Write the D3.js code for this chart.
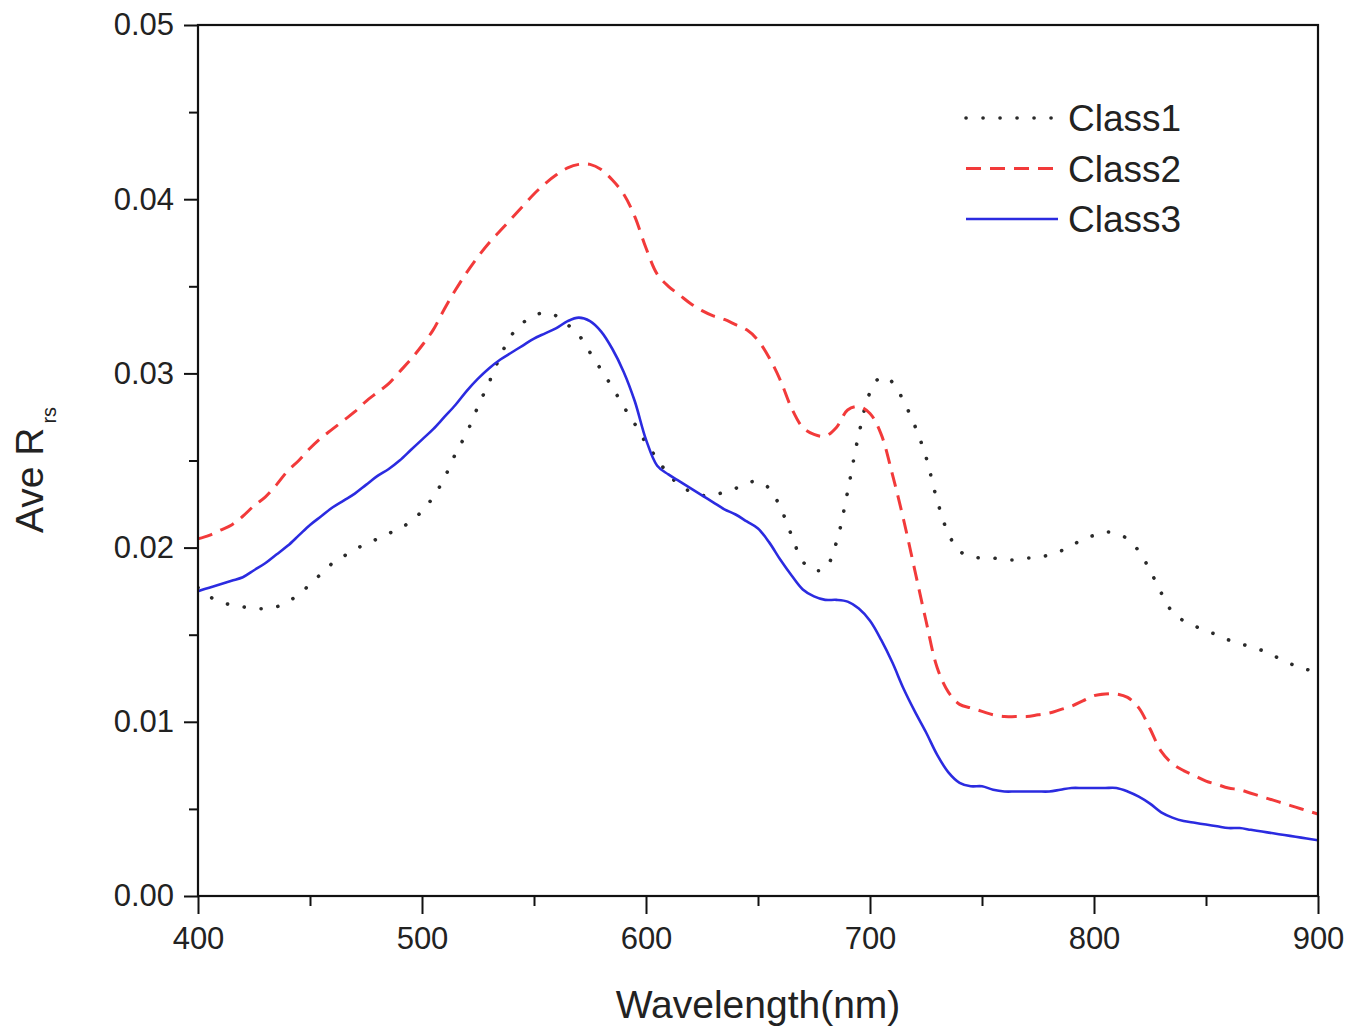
<!DOCTYPE html>
<html>
<head>
<meta charset="utf-8">
<script src="https://cdn.jsdelivr.net/npm/d3@7"></script>
<style>
  html, body { margin: 0; padding: 0; background: #fff; }
  svg { display: block; font-family: "Liberation Sans", Arial, sans-serif; }
</style>
</head>
<body>
<svg id="chart" width="1350" height="1028"></svg>
<script>
// Wavelength grid (nm), 5 nm steps
const wavelengths = d3.range(400, 901, 5);

// Average remote-sensing reflectance for each class
const class1 = [
  0.0177, 0.0172, 0.0169, 0.0167, 0.0166, 0.0165, 0.0165, 0.0166, 0.0169, 0.0173,
  0.0179, 0.0185, 0.0191, 0.0195, 0.0199, 0.0202, 0.0205, 0.0208, 0.0211, 0.0215,
  0.0221, 0.0229, 0.0240, 0.0254, 0.0266, 0.0281, 0.0295, 0.0310, 0.0322, 0.0329,
  0.0333, 0.0335, 0.0333, 0.0328, 0.0322, 0.0312, 0.0302, 0.0292, 0.0281, 0.0271,
  0.0260, 0.0251, 0.0242, 0.0236, 0.0232, 0.0230, 0.0230, 0.0232, 0.0234, 0.0237,
  0.0238, 0.0234, 0.0223, 0.0207, 0.0192, 0.0187, 0.0188, 0.0203, 0.0232, 0.0265,
  0.0289, 0.0298, 0.0295, 0.0284, 0.0270, 0.0252, 0.0227, 0.0208, 0.0198, 0.0195,
  0.0194, 0.0194, 0.0193, 0.0193, 0.0194, 0.0194, 0.0196, 0.0198, 0.0201, 0.0205,
  0.0207, 0.0209, 0.0208, 0.0205, 0.0198, 0.0187, 0.0174, 0.0163, 0.0158, 0.0155,
  0.0152, 0.0150, 0.0147, 0.0145, 0.0143, 0.0141, 0.0138, 0.0135, 0.0132, 0.0130,
  0.0129
];
const class2 = [
  0.0205, 0.0207, 0.0210, 0.0213, 0.0218, 0.0224, 0.0229, 0.0236, 0.0244, 0.0250,
  0.0257, 0.0263, 0.0268, 0.0273, 0.0278, 0.0284, 0.0289, 0.0294, 0.0301, 0.0308,
  0.0316, 0.0325, 0.0337, 0.0348, 0.0358, 0.0367, 0.0375, 0.0382, 0.0389, 0.0396,
  0.0403, 0.0409, 0.0414, 0.0418, 0.0420, 0.0420, 0.0417, 0.0411, 0.0403, 0.0390,
  0.0372, 0.0357, 0.0350, 0.0345, 0.0340, 0.0336, 0.0333, 0.0331, 0.0328, 0.0325,
  0.0319, 0.0309, 0.0296, 0.0280, 0.0269, 0.0265, 0.0264, 0.0269, 0.0279, 0.0281,
  0.0277, 0.0265, 0.0242, 0.0216, 0.0187, 0.0158, 0.0131, 0.0117, 0.0110, 0.0108,
  0.0106, 0.0104, 0.0103, 0.0103, 0.0103, 0.0104, 0.0105, 0.0107, 0.0109, 0.0112,
  0.0115, 0.0116, 0.0116, 0.0114, 0.0108, 0.0096, 0.0083, 0.0076, 0.0072, 0.0069,
  0.0066, 0.0064, 0.0062, 0.0061, 0.0059, 0.0057, 0.0055, 0.0053, 0.0051, 0.0049,
  0.0047
];
const class3 = [
  0.0175, 0.0177, 0.0179, 0.0181, 0.0183, 0.0187, 0.0191, 0.0196, 0.0201, 0.0207,
  0.0213, 0.0218, 0.0223, 0.0227, 0.0231, 0.0236, 0.0241, 0.0245, 0.0250, 0.0256,
  0.0262, 0.0268, 0.0275, 0.0282, 0.0290, 0.0297, 0.0303, 0.0308, 0.0312, 0.0316,
  0.0320, 0.0323, 0.0326, 0.0330, 0.0332, 0.0330, 0.0324, 0.0314, 0.0301, 0.0284,
  0.0262, 0.0247, 0.0242, 0.0238, 0.0234, 0.0230, 0.0226, 0.0222, 0.0219, 0.0215,
  0.0211, 0.0203, 0.0193, 0.0184, 0.0176, 0.0172, 0.0170, 0.0170, 0.0169, 0.0165,
  0.0158, 0.0147, 0.0134, 0.0119, 0.0106, 0.0094, 0.0081, 0.0071, 0.0065, 0.0063,
  0.0063, 0.0061, 0.0060, 0.0060, 0.0060, 0.0060, 0.0060, 0.0061, 0.0062, 0.0062,
  0.0062, 0.0062, 0.0062, 0.0060, 0.0057, 0.0053, 0.0048, 0.0045, 0.0043, 0.0042,
  0.0041, 0.0040, 0.0039, 0.0039, 0.0038, 0.0037, 0.0036, 0.0035, 0.0034, 0.0033,
  0.0032
];

const seriesNames = ["Class1", "Class2", "Class3"];
const xTicks = [400, 500, 600, 700, 800, 900];
const xMinorTicks = [450, 550, 650, 750, 850];
const yTicks = [0.00, 0.01, 0.02, 0.03, 0.04, 0.05];
const yMinorTicks = [0.005, 0.015, 0.025, 0.035, 0.045];

const styles = {
  Class1: { color: "#2a2a2a", width: 3.6, dash: "0.1 16.9", cap: "round" },
  Class2: { color: "#f23a3a", width: 3, dash: "15 9", cap: "butt" },
  Class3: { color: "#2b2be0", width: 2.6, dash: null, cap: "butt" }
};

const margin = { left: 198, top: 25, right: 32, bottom: 132 };
const W = 1350, H = 1028;
const innerW = W - margin.left - margin.right;
const innerH = H - margin.top - margin.bottom;

const svg = d3.select("#chart");
const g = svg.append("g").attr("transform", `translate(${margin.left},${margin.top})`);

const x = d3.scaleLinear().domain([400, 900]).range([0, innerW]);
const y = d3.scaleLinear().domain([0, 0.05]).range([innerH, 0]);

const series = [class1, class2, class3].map((vals, i) => ({
  name: seriesNames[i],
  points: wavelengths.map((w, j) => ({ w, v: vals[j] }))
}));

svg.append("clipPath").attr("id", "plotclip")
  .append("rect").attr("x", 0).attr("y", 0).attr("width", innerW).attr("height", innerH);

const line = d3.line()
  .x(d => x(d.w))
  .y(d => y(d.v))
  .curve(d3.curveCatmullRom.alpha(0.5));

g.append("g").attr("clip-path", "url(#plotclip)")
  .selectAll("path")
  .data(series)
  .join("path")
  .attr("d", d => line(d.points))
  .attr("fill", "none")
  .attr("stroke", d => styles[d.name].color)
  .attr("stroke-width", d => styles[d.name].width)
  .attr("stroke-dasharray", d => styles[d.name].dash)
  .attr("stroke-linecap", d => styles[d.name].cap)
  .attr("stroke-linejoin", "round");

// Axes: major ticks labelled, minor ticks halfway between
const tickFont = "31px";
const xAxis = d3.axisBottom(x).tickValues(xTicks).tickSize(18).tickPadding(13).tickFormat(d3.format("d"));
const xAxisMinor = d3.axisBottom(x).tickValues(xMinorTicks).tickSize(10).tickFormat("");
const yAxis = d3.axisLeft(y).tickValues(yTicks).tickSize(14).tickPadding(10).tickFormat(d3.format(".2f"));
const yAxisMinor = d3.axisLeft(y).tickValues(yMinorTicks).tickSize(9).tickFormat("");

function styleAxis(sel) {
  sel.select(".domain").remove();
  sel.selectAll(".tick line").attr("stroke", "#111").attr("stroke-width", 2);
  sel.selectAll(".tick text").attr("fill", "#222").style("font-size", tickFont);
}

g.append("g").attr("transform", `translate(0,${innerH})`).call(xAxis).call(styleAxis);
g.append("g").attr("transform", `translate(0,${innerH})`).call(xAxisMinor).call(styleAxis);
g.append("g").call(yAxis).call(styleAxis);
g.append("g").call(yAxisMinor).call(styleAxis);

// Frame
g.append("rect")
  .attr("x", 0).attr("y", 0).attr("width", innerW).attr("height", innerH)
  .attr("fill", "none").attr("stroke", "#111").attr("stroke-width", 2.2);

// Axis titles
svg.append("text")
  .attr("x", margin.left + innerW / 2).attr("y", 1018)
  .attr("text-anchor", "middle")
  .attr("fill", "#222")
  .style("font-size", "39px")
  .text("Wavelength(nm)");

const yTitle = svg.append("text")
  .attr("transform", `translate(43,470) rotate(-90)`)
  .attr("text-anchor", "middle")
  .attr("fill", "#222")
  .style("font-size", "39px");
yTitle.append("tspan").text("Ave R");
yTitle.append("tspan").attr("dy", 13).attr("dx", 4).style("font-size", "20px").text("rs");

// Legend
const legend = g.append("g").attr("transform", `translate(${966 - margin.left},${118 - margin.top})`);
const rows = legend.selectAll("g").data(seriesNames).join("g")
  .attr("transform", (d, i) => `translate(0,${i * 50.5})`);
rows.append("line")
  .attr("x1", 0).attr("x2", 92).attr("y1", 0).attr("y2", 0)
  .attr("stroke", d => styles[d].color)
  .attr("stroke-width", d => styles[d].width)
  .attr("stroke-dasharray", d => styles[d].dash)
  .attr("stroke-linecap", d => styles[d].cap);
rows.append("text")
  .attr("x", 102).attr("y", 0).attr("dy", "0.36em")
  .attr("fill", "#222")
  .style("font-size", "37px")
  .text(d => d);
</script>
</body>
</html>
